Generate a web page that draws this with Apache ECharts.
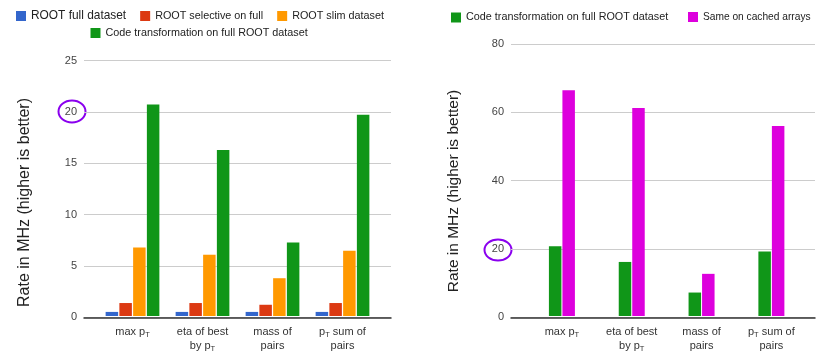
<!DOCTYPE html>
<html><head><meta charset="utf-8">
<script src="https://cdn.jsdelivr.net/npm/echarts@6/dist/echarts.min.js"></script>
<style>html,body{margin:0;padding:0;background:#fff}#c{width:817px;height:353px}</style>
</head><body><div id="c"></div>
<script>
const categories = ['max p_T', 'eta of best\nby p_T', 'mass of\npairs', 'p_T sum of\npairs'];
const leftNames = ['ROOT full dataset', 'ROOT selective on full', 'ROOT slim dataset', 'Code transformation on full ROOT dataset'];
const leftFull = [0.4, 0.4, 0.4, 0.4];
const leftSelective = [1.27, 1.27, 1.1, 1.27];
const leftSlim = [6.7, 6.0, 3.7, 6.4];
const leftCode = [20.7, 16.25, 7.2, 19.7];
const rightNames = ['Code transformation on full ROOT dataset', 'Same on cached arrays'];
const rightCode = [20.5, 15.9, 6.9, 19.0];
const rightCached = [66.4, 61.2, 12.4, 55.9];
const leftTicks = {min: 0, max: 25, interval: 5};
const rightTicks = {min: 0, max: 80, interval: 20};
const yTitle = 'Rate in MHz (higher is better)';

const colors = ['#3366cc', '#dc3912', '#ff9900', '#109618', '#dd00dd'];
const FONT = 'Liberation Sans, Arial, sans-serif';
const chart = echarts.init(document.getElementById('c'), null, {renderer: 'canvas'});
function richLabel(v) {
  return v.split('\n').map(line => {
    const parts = line.split('p_T');
    let out = '';
    parts.forEach((p, i) => {
      if (p) out += '{a|' + p + '}';
      if (i < parts.length - 1) out += '{a|p}{sub|T}';
    });
    return out;
  }).join('\n');
}
const xLabel = {
  interval: 0, margin: 9, color: '#333', fontSize: 11, lineHeight: 14, fontFamily: FONT,
  formatter: richLabel,
  rich: {
    a: {fontSize: 11, color: '#333', lineHeight: 14, fontFamily: FONT},
    sub: {fontSize: 7.5, color: '#333', lineHeight: 14, verticalAlign: 'bottom', padding: [3, 0, 0, 0], fontFamily: FONT}
  }
};
const yLabel = {color: '#444', fontSize: 11, margin: 7, fontFamily: FONT};
const gridLine = {show: true, lineStyle: {color: '#cccccc', width: 1}};
const baseLine = {show: true, onZero: false, lineStyle: {color: '#333', width: 1.5}};
const legendText = {fontSize: 10.8, color: '#222', fontFamily: FONT};
const legendBase = {padding: 0, itemWidth: 10, itemHeight: 10, icon: 'rect', textStyle: legendText};

chart.setOption({
  animation: false,
  textStyle: {fontFamily: FONT},
  color: colors,
  grid: [
    {left: 84, width: 307, top: 60.7, height: 256.6},
    {left: 97.5, width: 280, top: 60.7, height: 256.6},
    {left: 511, width: 304, top: 44, height: 273.3},
    {left: 527, width: 279.3, top: 44, height: 273.3}
  ],
  xAxis: [
    {gridIndex: 0, type: 'value', min: 0, max: 1, axisLine: baseLine, axisTick: {show: false}, axisLabel: {show: false}, splitLine: {show: false}},
    {gridIndex: 1, type: 'category', data: categories, axisLine: {show: false}, axisTick: {show: false}, axisLabel: xLabel},
    {gridIndex: 2, type: 'value', min: 0, max: 1, axisLine: baseLine, axisTick: {show: false}, axisLabel: {show: false}, splitLine: {show: false}},
    {gridIndex: 3, type: 'category', data: categories, axisLine: {show: false}, axisTick: {show: false}, axisLabel: xLabel}
  ],
  yAxis: [
    Object.assign({gridIndex: 0, type: 'value', axisLine: {show: false}, axisTick: {show: false}, axisLabel: yLabel, splitLine: gridLine}, leftTicks),
    Object.assign({gridIndex: 1, type: 'value', show: false}, leftTicks),
    Object.assign({gridIndex: 2, type: 'value', axisLine: {show: false}, axisTick: {show: false}, axisLabel: yLabel, splitLine: gridLine}, rightTicks),
    Object.assign({gridIndex: 3, type: 'value', show: false}, rightTicks)
  ],
  legend: [
    Object.assign({left: 16, top: 10, width: 420, itemGap: 14,
      data: [{name: leftNames[0], textStyle: {fontSize: 11.9}}, leftNames[1], leftNames[2]]}, legendBase),
    Object.assign({left: 90.5, top: 27.5, width: 400, data: [leftNames[3]]}, legendBase),
    Object.assign({left: 451, top: 12, width: 300, data: [rightNames[0]]}, legendBase),
    Object.assign({left: 688, top: 12, width: 129, data: [{name: rightNames[1], textStyle: {fontSize: 10.2}}]}, legendBase)
  ],
  series: [
    {name: leftNames[0], type: 'bar', xAxisIndex: 1, yAxisIndex: 1, data: leftFull, barWidth: 12.5, barGap: '10%', itemStyle: {color: colors[0]}},
    {name: leftNames[1], type: 'bar', xAxisIndex: 1, yAxisIndex: 1, data: leftSelective, barWidth: 12.5, barGap: '10%', itemStyle: {color: colors[1]}},
    {name: leftNames[2], type: 'bar', xAxisIndex: 1, yAxisIndex: 1, data: leftSlim, barWidth: 12.5, barGap: '10%', itemStyle: {color: colors[2]}},
    {name: leftNames[3], type: 'bar', xAxisIndex: 1, yAxisIndex: 1, data: leftCode, barWidth: 12.5, barGap: '10%', itemStyle: {color: colors[3]}},
    {name: rightNames[0], type: 'bar', xAxisIndex: 3, yAxisIndex: 3, data: rightCode, barWidth: 12.5, barGap: '8%', itemStyle: {color: colors[3]}},
    {name: rightNames[1], type: 'bar', xAxisIndex: 3, yAxisIndex: 3, data: rightCached, barWidth: 12.5, barGap: '8%', itemStyle: {color: colors[4]}}
  ],
  graphic: [
    {type: 'text', x: 25, y: 202.5, rotation: Math.PI / 2, style: {text: yTitle, fontSize: 16, fill: '#222', align: 'center', verticalAlign: 'middle', fontFamily: FONT}},
    {type: 'text', x: 454, y: 191, rotation: Math.PI / 2, style: {text: yTitle, fontSize: 15.5, fill: '#222', align: 'center', verticalAlign: 'middle', fontFamily: FONT}},
    {type: 'ellipse', shape: {cx: 72, cy: 111.5, rx: 13.5, ry: 11}, style: {fill: 'none', stroke: '#8a00ee', lineWidth: 2}},
    {type: 'ellipse', shape: {cx: 498, cy: 250, rx: 13.5, ry: 10.5}, style: {fill: 'none', stroke: '#8a00ee', lineWidth: 2}}
  ]
});
</script>
</body></html>
